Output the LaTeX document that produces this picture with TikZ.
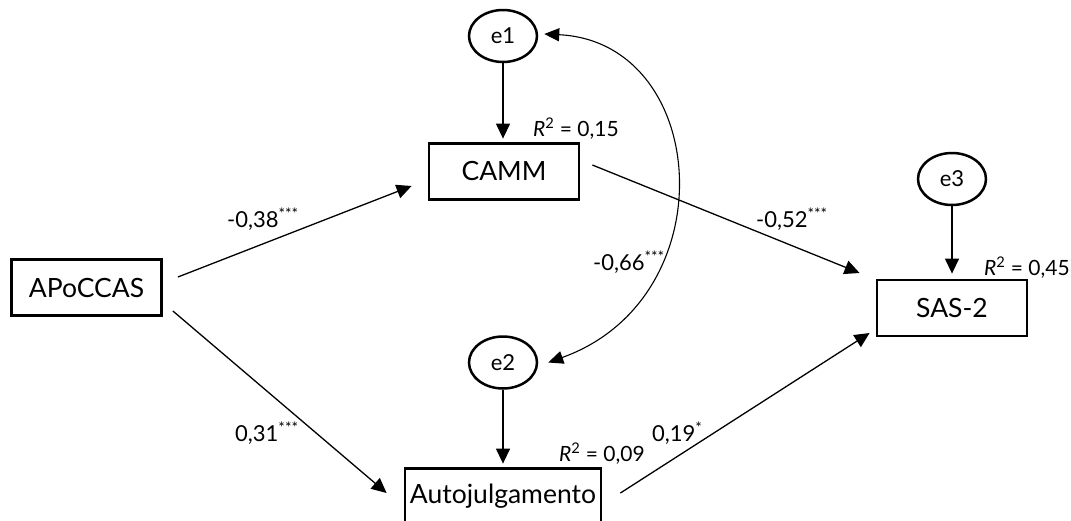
\documentclass[tikz,border=0pt]{standalone}
\usepackage{fontspec}
\setmainfont{Lato}
\usetikzlibrary{arrows.meta,shapes.geometric}
\begin{document}
\begin{tikzpicture}[x=1pt,y=-1pt,
 box/.style={draw,line width=2.8pt,minimum width=150pt,minimum height=56pt,inner sep=0pt,font=\fontsize{26.5}{30}\selectfont},
 err/.style={draw,ellipse,line width=2.5pt,minimum width=68pt,minimum height=52pt,inner sep=0pt,font=\fontsize{22}{24}\selectfont},
 arr/.style={line width=1.3pt,-{Triangle[length=15pt,width=14pt]}},
 cov/.style={line width=1.1pt,{Triangle[length=15pt,width=13pt]}-{Triangle[length=15pt,width=13pt]}},
 lbl/.style={font=\fontsize{22}{24}\selectfont,inner sep=0pt,anchor=base west},
 rsq/.style={font=\fontsize{21}{23}\selectfont,inner sep=0pt,anchor=base west}]
\clip (0,0) rectangle (1071,520);
\fill[white] (0,0) rectangle (1071,520);

\node[box] (apo) at (86.5,287.5) {APoCCAS};
\node[box] (camm) at (504,171.5) {CAMM};
\node[box,minimum width=196pt] (auto) at (503,496.5) {Autojulgamento};
\node[box] (sas) at (952,308) {SAS-2};

\node[err] (e1) at (503,36) {e1};
\node[err] (e2) at (503,362.5) {e2};
\node[err] (e3) at (952,179) {e3};

\draw[arr] ([shift={(15,-10.5)}]apo.east) -- ([shift={(-16,14.5)}]camm.west);
\draw[arr] ([shift={(10,23.5)}]apo.east) -- ([shift={(-17,-3.5)}]auto.west);
\draw[arr] ([shift={(12,-6.5)}]camm.east) -- ([shift={(-16,-35)}]sas.west);
\draw[arr] ([shift={(18,-3.5)}]auto.east) -- ([shift={(-6,25)}]sas.west);

\draw[arr,shorten >=3.5pt] (e1.south) -- (e1.south |- camm.north);
\draw[arr,shorten >=3.5pt] (e2.south) -- (e2.south |- auto.north);
\draw[arr,shorten >=5pt] (e3.south) -- (e3.south |- sas.north);

\draw[cov] ([shift={(6,-2)}]e1.east) .. controls (710,42) and (728,298) .. ([shift={(10,0)}]e2.east);

\node[lbl] (l1) at (227,227) {-0,38\textsuperscript{***}};
\node[lbl] (l2) at (235,441) {0,31\textsuperscript{***}};
\node[lbl] (l3) at (756,227) {-0,52\textsuperscript{***}};
\node[lbl] (l4) at (593,270) {-0,66\textsuperscript{***}};
\node[lbl] (l5) at (652,441) {0,19\textsuperscript{*}};

\node[rsq] (r1) at (533,136) {\textit{R}\textsuperscript{2} = 0,15};
\node[rsq] (r2) at (559,461) {\textit{R}\textsuperscript{2} = 0,09};
\node[rsq] (r3) at (984,275) {\textit{R}\textsuperscript{2} = 0,45};
\end{tikzpicture}
\end{document}
